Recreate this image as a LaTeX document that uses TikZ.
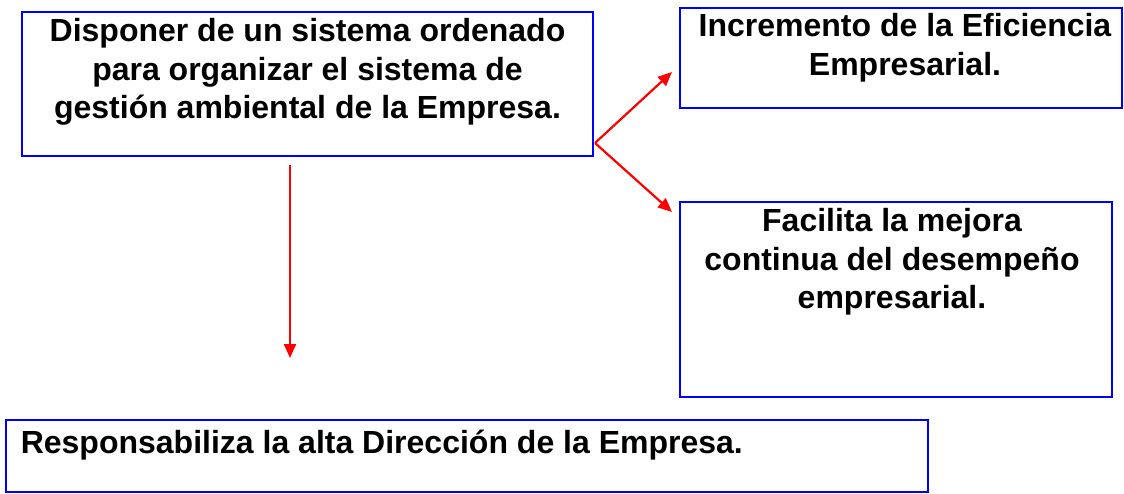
\documentclass[tikz,border=0pt]{standalone}
\usepackage{fontspec}
\setmainfont{Liberation Sans}
\usetikzlibrary{arrows.meta,positioning}
\tikzstyle{box}=[draw=blue,line width=2.8pt,inner sep=0pt]
\tikzstyle{txt}=[font=\fontsize{32}{38.5}\selectfont\bfseries,align=center,inner sep=0pt]
\tikzstyle{link}=[draw=red,line width=2.2pt,-{Triangle[length=14pt,width=12pt]}]

\begin{document}
\begin{tikzpicture}[x=1pt,y=-1pt]
\useasboundingbox (0,0) rectangle (1124,493);

% First the four boxes
\foreach \pos/\w/\h/\name in {{(307.5,84)/571/144/goal},{(901,58)/442/100/eff},{(896,299.5)/432/195/mejora},{(467,456)/922/72/dir}}
\node[box,minimum width=\w pt,minimum height=\h pt] (\name) at \pos {};

% Then the texts, hanging from the top of each box
\node[txt,below=8pt of goal.north] (goaltxt) {Disponer de un sistema ordenado\\para organizar el sistema de\\gestión ambiental de la Empresa.};
\node[txt,below=7pt of eff.north,xshift=4pt] (efftxt) {Incremento de la Eficiencia\\Empresarial.};
\node[txt,below=8pt of mejora.north,xshift=-4pt] (mejoratxt) {Facilita la mejora\\continua del desempeño\\empresarial.};
\node[txt,anchor=north west,inner sep=0pt] (dirtxt) at ([xshift=16pt,yshift=-11pt]dir.north west) {Responsabiliza la alta Dirección de la Empresa.};

% Red arrows between the boxes
\coordinate (fork) at (595,143);
\coordinate (efftip) at (672,72);
\coordinate (mejtip) at (672,212);
\coordinate (downtop) at (290,165);
\coordinate (downtip) at (290,358);
\foreach \source/\dest in {fork/efftip,fork/mejtip,downtop/downtip}
\path[link] (\source) -- (\dest);

\end{tikzpicture}
\end{document}
